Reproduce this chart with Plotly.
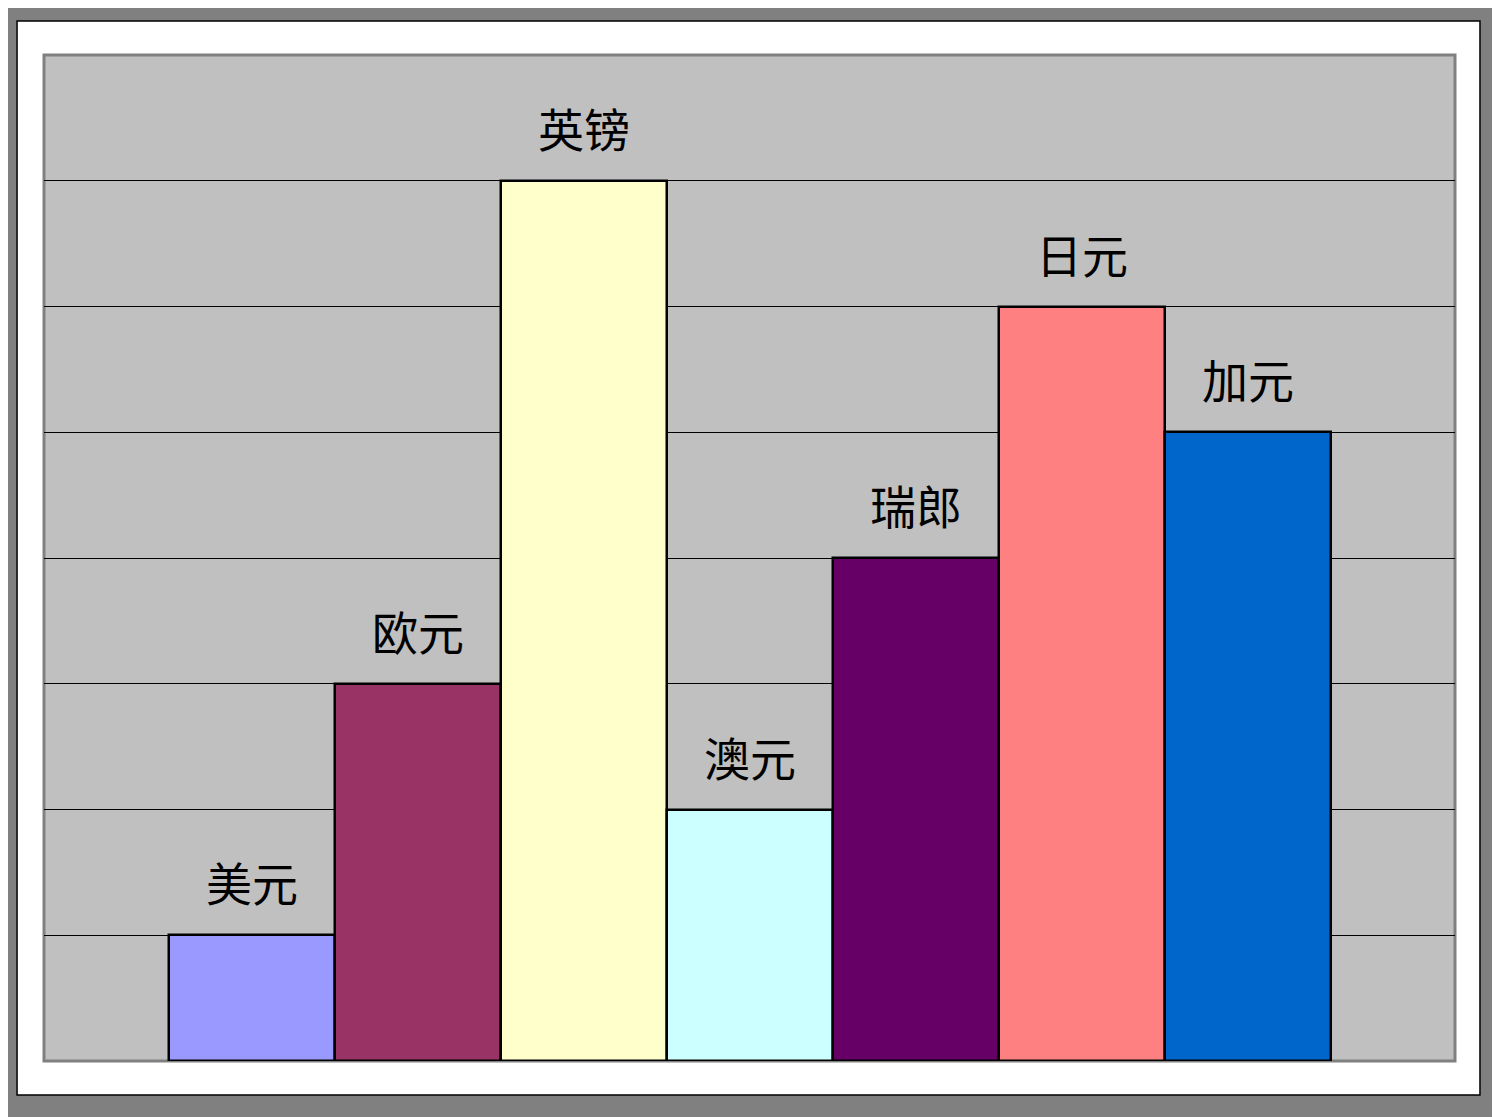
import plotly.graph_objects as go

currencies = ["美元", "欧元", "英镑", "澳元", "瑞郎", "日元", "加元"]
values = [1, 3, 7, 2, 4, 6, 5]
bar_colors = ["#9999FF", "#993366", "#FFFFCC", "#CCFFFF", "#660066", "#FF8080", "#0066CC"]

fig = go.Figure(go.Bar(
    x=list(range(len(currencies))), y=values,
    marker=dict(color=bar_colors, line=dict(color="black", width=2.5)),
    width=1, hoverinfo="skip",
))

# labels above the bars
for i, (name, v) in enumerate(zip(currencies, values)):
    fig.add_annotation(x=i, y=v, text=name, showarrow=False, yanchor="middle", yshift=54,
                       font=dict(family="Noto Sans CJK SC", size=46, color="black"))

# white frame and grey plot area
fig.add_shape(type="rect", xref="paper", yref="paper", x0=-0.0191, x1=1.0177, y0=-0.0338, y1=1.0338,
              fillcolor="white", line=dict(color="black", width=1.5), layer="below")
fig.add_shape(type="rect", xref="paper", yref="paper", x0=0, x1=1, y0=0, y1=1,
              fillcolor="#C0C0C0", line=dict(color="#808080", width=3), layer="below")

# page body adds an 8px offset, so the figure is sized to fit the window
fig.update_layout(
    width=1492, height=1109,
    margin=dict(l=36, r=45, t=47, b=56),
    paper_bgcolor="#808080", plot_bgcolor="rgba(0,0,0,0)",
    bargap=0, showlegend=False,
)
fig.update_xaxes(range=[-1.25, 7.25], showticklabels=False, showgrid=False, zeroline=False, ticks="")
fig.update_yaxes(range=[0, 8], dtick=1, showticklabels=False, showgrid=True, gridcolor="black",
                 gridwidth=1, zeroline=False, ticks="")

fig.write_html("out.html")
